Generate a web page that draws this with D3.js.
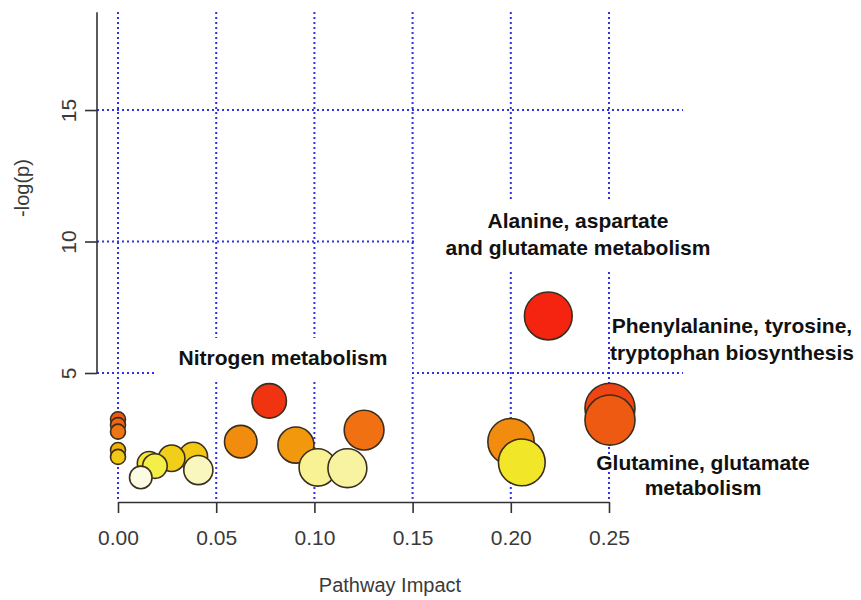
<!DOCTYPE html>
<html>
<head>
<meta charset="utf-8">
<script src="https://cdn.jsdelivr.net/npm/d3@7"></script>
<style>
  body { margin: 0; background: #fff; }
  svg text { font-family: "Liberation Sans", Arial, Helvetica, sans-serif; }
</style>
</head>
<body>
<svg id="chart" width="861" height="600"></svg>
<script>
// Pathway analysis results: one bubble per pathway
const pathwayImpact = [0, 0, 0, 0, 0, 0.0116, 0.0159, 0.0188, 0.0273, 0.0383, 0.0409,
                       0.0625, 0.0770, 0.0906, 0.1017, 0.1168, 0.1253, 0.2001, 0.2056,
                       0.2191, 0.2505, 0.2505];
const negLogP      = [3.24, 3.02, 2.77, 2.07, 1.81, 1.03, 1.56, 1.46, 1.76, 1.82, 1.31,
                      2.39, 3.94, 2.26, 1.41, 1.38, 2.83, 2.39, 1.60,
                      7.17, 3.66, 3.21];

const xTicks = [0, 0.05, 0.10, 0.15, 0.20, 0.25];
const yTicks = [5, 10, 15];

const annotationLines = [
  ["Nitrogen metabolism"],
  ["Alanine, aspartate", "and glutamate metabolism"],
  ["Phenylalanine, tyrosine,", "tryptophan biosynthesis"],
  ["Glutamine, glutamate", "metabolism"]
];

const xTitle = "Pathway Impact";
const yTitle = "-log(p)";

// ---- layout ----
const svg = d3.select("#chart");
const plot = { left: 97, right: 683, top: 12, bottom: 502 };

const x = d3.scaleLinear().domain([0, 0.25]).range([118, 609]);
const y = d3.scaleLinear().domain([0, 18.72]).range([504.5, 12.2]);

// bubble size follows impact, colour follows significance (heat colours)
const r = d3.scaleSqrt().domain([0, 0.25]).range([7.5, 25]);
const color = d3.scaleLinear()
  .domain([1.03, 1.3, 1.41, 1.46, 1.6, 1.78, 2.07, 2.3, 2.8, 3.2, 3.7, 3.95, 7.2])
  .range(["#fbfbe4", "#f9f6c2", "#f8f294", "#f3ee48", "#f2e628", "#f1cc16", "#f1b206",
          "#f2920e", "#f07212", "#ef5a12", "#f04212", "#f03210", "#f52410"])
  .clamp(true);

const points = pathwayImpact.map((v, i) => ({ impact: v, p: negLogP[i] }))
  .sort((a, b) => b.p - a.p);

// ---- grid ----
const grid = svg.append("g")
  .attr("stroke", "#3030ee")
  .attr("stroke-width", 2)
  .attr("stroke-dasharray", "2,3")
  .attr("fill", "none");

grid.selectAll("line.v").data(xTicks).join("line")
  .attr("class", "v")
  .attr("x1", d => x(d)).attr("x2", d => x(d))
  .attr("y1", plot.top).attr("y2", plot.bottom);

grid.selectAll("line.h").data(yTicks).join("line")
  .attr("class", "h")
  .attr("x1", plot.left).attr("x2", plot.right)
  .attr("y1", d => y(d)).attr("y2", d => y(d));

// white panels behind two of the annotations
svg.append("rect").attr("x", 155).attr("y", 338).attr("width", 257).attr("height", 43).attr("fill", "#fff");
svg.append("rect").attr("x", 415).attr("y", 200).attr("width", 308).attr("height", 70).attr("fill", "#fff");

// ---- axes ----
const axisColor = "#333";

const xAxis = svg.append("g")
  .attr("transform", `translate(0,${plot.bottom})`)
  .call(d3.axisBottom(x).tickValues(xTicks).tickFormat(d3.format(".2f"))
        .tickSize(11).tickSizeOuter(0).tickPadding(17));
xAxis.select(".domain").attr("stroke", axisColor).attr("stroke-width", 1.6);
xAxis.selectAll(".tick line").attr("stroke", axisColor).attr("stroke-width", 1.6);
xAxis.selectAll(".tick text").attr("font-size", 21).attr("fill", "#3a3a3a");

const yAxis = svg.append("g")
  .attr("transform", `translate(${plot.left},0)`)
  .call(d3.axisLeft(y).tickValues(yTicks).tickSize(12).tickSizeOuter(0));
yAxis.select(".domain")
  .attr("d", `M0,${y.range()[1]}V${y(yTicks[0])}`)
  .attr("stroke", axisColor).attr("stroke-width", 1.6);
yAxis.selectAll(".tick line").attr("stroke", axisColor).attr("stroke-width", 1.6);
yAxis.selectAll(".tick text")
  .attr("x", null).attr("dy", null)
  .attr("transform", "translate(-21,0) rotate(-90)")
  .attr("text-anchor", "middle")
  .attr("font-size", 21).attr("fill", "#3a3a3a");

svg.append("text")
  .attr("x", 390).attr("y", 592)
  .attr("text-anchor", "middle")
  .attr("font-size", 20).attr("fill", "#3a3a3a")
  .text(xTitle);

svg.append("text")
  .attr("transform", "translate(29,188) rotate(-90)")
  .attr("text-anchor", "middle")
  .attr("font-size", 20).attr("fill", "#3a3a3a")
  .text(yTitle);

// ---- bubbles ----
svg.append("g").selectAll("circle").data(points).join("circle")
  .attr("cx", d => x(d.impact))
  .attr("cy", d => y(d.p))
  .attr("r", d => r(d.impact))
  .attr("fill", d => color(d.p))
  .attr("stroke", "#3a2e1e")
  .attr("stroke-width", 1.6);

// ---- annotations ----
const annoPos = [
  { x: 283, y: 365 },
  { x: 578, y: 228 },
  { x: 732, y: 333 },
  { x: 703, y: 470 }
];
const lineGap = [0, 27, 27, 25];

annotationLines.forEach((lines, i) => {
  const t = svg.append("text")
    .attr("text-anchor", "middle")
    .attr("font-size", 21)
    .attr("font-weight", "bold")
    .attr("fill", "#111");
  lines.forEach((s, j) => {
    t.append("tspan")
      .attr("x", annoPos[i].x)
      .attr("y", annoPos[i].y + j * lineGap[i])
      .text(s);
  });
});
</script>
</body>
</html>
